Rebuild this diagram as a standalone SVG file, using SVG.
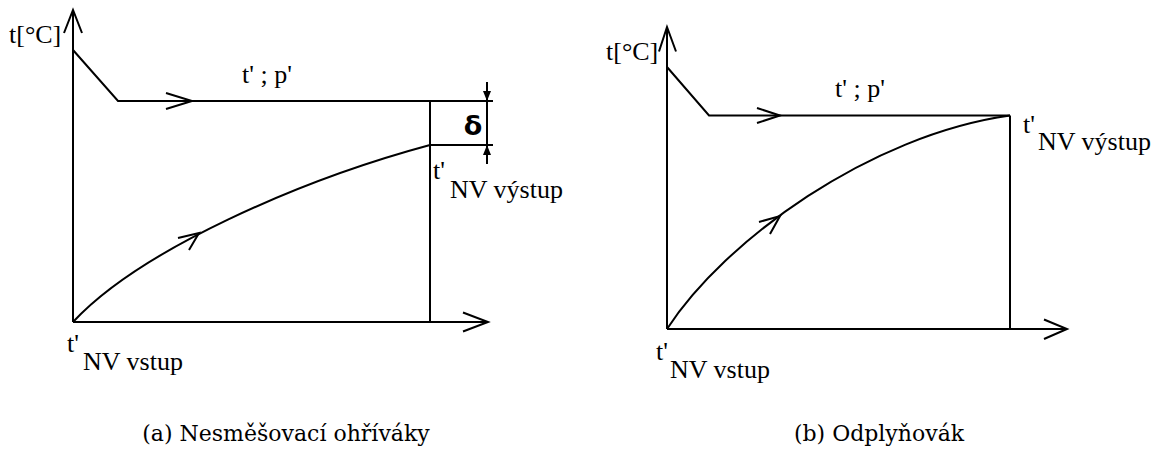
<svg xmlns="http://www.w3.org/2000/svg" width="1156" height="450" viewBox="0 0 1156 450">
  <style>
    .ln { fill: none; stroke: #000; stroke-width: 2; stroke-linejoin: miter; stroke-linecap: butt; }
    .lbl { font-family: "Liberation Serif", "DejaVu Serif", serif; font-size: 26px; fill: #000; }
    .cap { font-family: "DejaVu Serif", "Liberation Serif", serif; font-size: 22px; fill: #000; }
    .delta { font-family: "DejaVu Sans", "Liberation Sans", sans-serif; font-size: 27px; font-weight: bold; fill: #000; }
  </style>
  <defs>
    <marker id="dimArrow" viewBox="0 0 10 8" refX="10" refY="4" markerWidth="10" markerHeight="8" markerUnits="userSpaceOnUse" orient="auto">
      <path d="M0,0 L10,4 L0,8 Z" fill="#000"/>
    </marker>
  </defs>
  <rect width="1156" height="450" fill="#fff"/>

  <!-- Panel (a) -->
  <g id="panel-a">
    <g id="a-connectors">
      <line class="ln" x1="73" y1="322" x2="73" y2="10"/>
      <polyline class="ln" points="64,33 73,10 82,33"/>
      <line class="ln" x1="73" y1="322" x2="488" y2="322"/>
      <polyline class="ln" points="463,312.5 488,322 463,331.5"/>
      <polyline class="ln" points="73,50 118,101 493,101"/>
      <polyline class="ln" points="166,93 192,101 166,109"/>
      <line class="ln" x1="430" y1="101" x2="430" y2="322"/>
      <line class="ln" x1="430" y1="145" x2="493" y2="145"/>
      <path class="ln" d="M73,322 C140,250 300,180 430,145"/>
      <polyline class="ln" points="178,238 199,233 189,250"/>
      <line class="ln" x1="487" y1="82" x2="487" y2="164"/>
      <line x1="487" y1="86" x2="487" y2="101" stroke="#000" stroke-width="0" marker-end="url(#dimArrow)"/>
      <line x1="487" y1="160" x2="487" y2="145" stroke="#000" stroke-width="0" marker-end="url(#dimArrow)"/>
    </g>
    <g id="a-labels">
      <text class="lbl" x="9" y="43">t[°C]</text>
      <text class="lbl" x="242" y="83">t' ; p'</text>
      <text class="delta" x="473" y="135" text-anchor="middle">δ</text>
      <text class="lbl" x="433" y="179">t'</text>
      <text class="lbl" x="450" y="198">NV výstup</text>
      <text class="lbl" x="67" y="352">t'</text>
      <text class="lbl" x="83" y="370">NV vstup</text>
      <text class="cap" x="286" y="441" text-anchor="middle">(a) Nesměšovací ohříváky</text>
    </g>
  </g>

  <!-- Panel (b) -->
  <g id="panel-b">
    <g id="b-connectors">
      <line class="ln" x1="667" y1="329" x2="667" y2="27"/>
      <polyline class="ln" points="659,51.5 667,27 676,51.5"/>
      <line class="ln" x1="667" y1="329" x2="1067" y2="329"/>
      <polyline class="ln" points="1044,319.5 1067,329 1044,339"/>
      <polyline class="ln" points="667,67 709,115.5 1010,115.5"/>
      <polyline class="ln" points="757,108 780,115.5 757,123"/>
      <line class="ln" x1="1010" y1="115.5" x2="1010" y2="329"/>
      <path class="ln" d="M667,329 C725,240 870,135 1010,115.5"/>
      <polyline class="ln" points="759,222 780,216 770,234"/>
    </g>
    <g id="b-labels">
      <text class="lbl" x="606" y="60">t[°C]</text>
      <text class="lbl" x="835" y="97">t' ; p'</text>
      <text class="lbl" x="1023" y="133">t'</text>
      <text class="lbl" x="1038" y="150">NV výstup</text>
      <text class="lbl" x="656" y="360">t'</text>
      <text class="lbl" x="670" y="378">NV vstup</text>
      <text class="cap" x="879" y="441" text-anchor="middle">(b) Odplyňovák</text>
    </g>
  </g>
</svg>
